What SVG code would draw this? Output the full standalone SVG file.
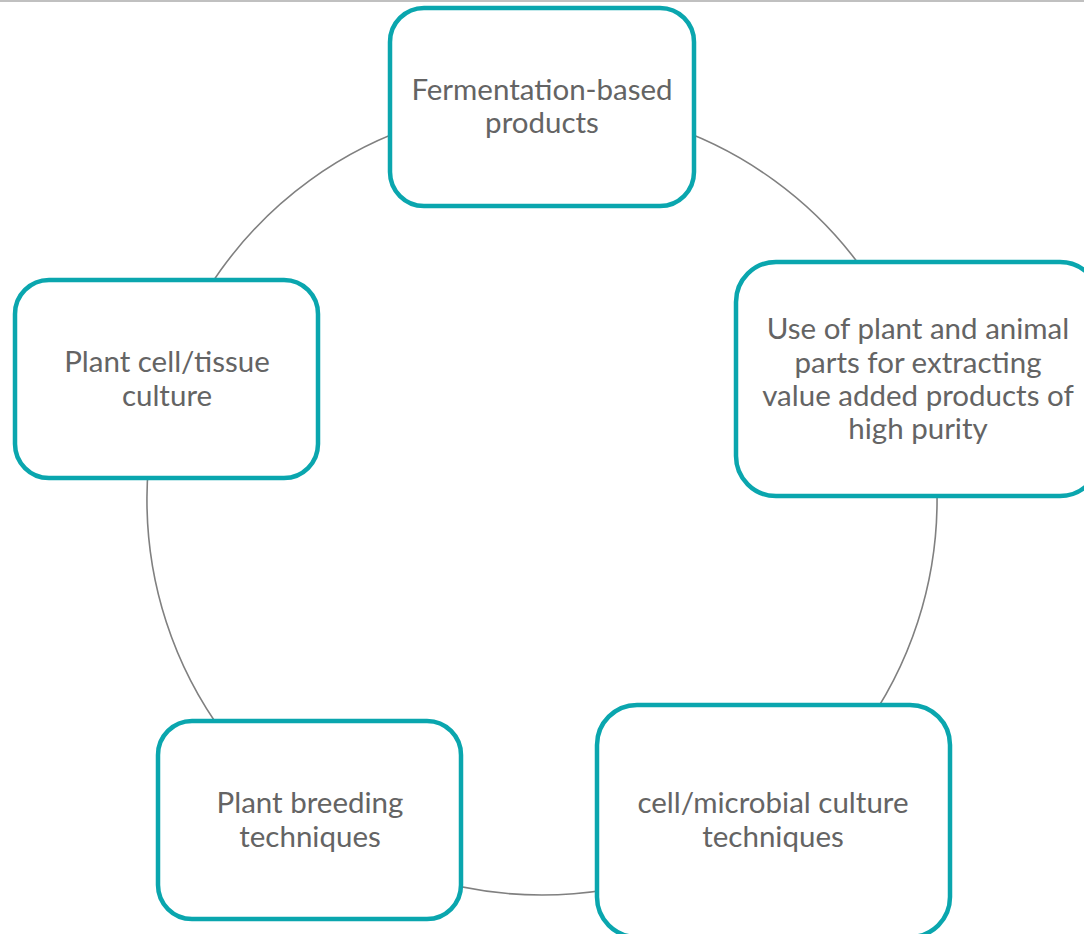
<svg xmlns="http://www.w3.org/2000/svg" width="1084" height="934" viewBox="0 0 1084 934">
<style>
.box{fill:#ffffff;stroke:#0aa6ae;stroke-width:4.5}
.arc{fill:none;stroke:#808080;stroke-width:1.6}
.lbl{font-family:Lato,"Open Sans","Liberation Sans",sans-serif;font-size:29.5px;fill:#646464;text-anchor:middle}
</style>
<rect x="0" y="0" width="1084" height="934" fill="#ffffff"/>
<line x1="0" y1="1" x2="1084" y2="1" stroke="#c0c0c0" stroke-width="2"/>
<g id="connectors">
<path class="arc" d="M542,105 A395,395 0 0 1 917.7,377.9"/>
<path class="arc" d="M917.7,377.9 A395,395 0 0 1 774.2,819.6"/>
<path class="arc" d="M774.2,819.6 A395,395 0 0 1 309.8,819.6"/>
<path class="arc" d="M309.8,819.6 A395,395 0 0 1 166.3,377.9"/>
<path class="arc" d="M166.3,377.9 A395,395 0 0 1 542,105"/>
</g>
<g id="node-fermentation">
<rect class="box" x="390" y="8" width="304" height="198" rx="34"/>
<text class="lbl" x="542" y="100">Fermentation-based</text>
<text class="lbl" x="542" y="133">products</text>
</g>
<g id="node-plant-animal-parts">
<rect class="box" x="736" y="262" width="364" height="234" rx="40"/>
<text class="lbl" x="918" y="339">Use of plant and animal</text>
<text class="lbl" x="918" y="373">parts for extracting</text>
<text class="lbl" x="918" y="406">value added products of</text>
<text class="lbl" x="918" y="439">high purity</text>
</g>
<g id="node-cell-microbial">
<rect class="box" x="597" y="705" width="353" height="232" rx="40"/>
<text class="lbl" x="773" y="813">cell/microbial culture</text>
<text class="lbl" x="773" y="847">techniques</text>
</g>
<g id="node-plant-breeding">
<rect class="box" x="158" y="721" width="303" height="198" rx="34"/>
<text class="lbl" x="310" y="813">Plant breeding</text>
<text class="lbl" x="310" y="847">techniques</text>
</g>
<g id="node-plant-cell-tissue">
<rect class="box" x="15" y="280" width="303" height="198" rx="34"/>
<text class="lbl" x="167" y="372">Plant cell/tissue</text>
<text class="lbl" x="167" y="406">culture</text>
</g>
</svg>
